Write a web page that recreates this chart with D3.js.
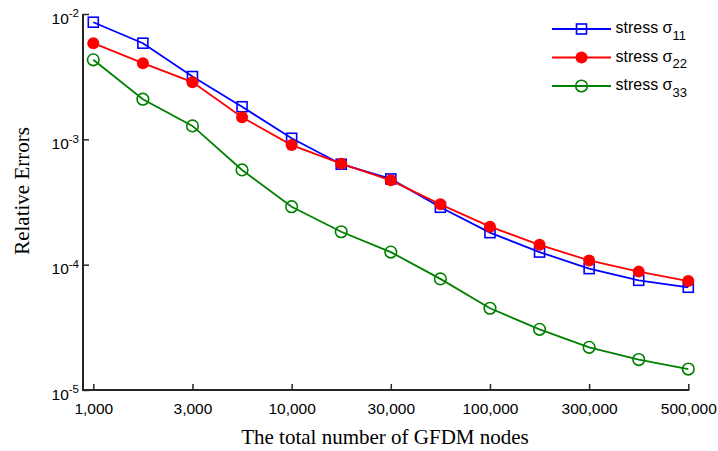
<!DOCTYPE html>
<html lang="en">
<head>
    <meta charset="UTF-8">
    <title>Relative errors vs GFDM nodes</title>
    <script src="https://d3js.org/d3.v7.min.js"></script>
    <style>
        body{ margin:0; background:#fff; }
        .tick text{ font-family: Arial, "Liberation Sans", sans-serif; font-size: 15.5px; fill:#000; }
        .tick line{ stroke:#262626; stroke-width:1.5px; }
        .title{ font-family: "Times New Roman", "Liberation Serif", serif; font-size: 21px; fill:#000; }
        .legend text{ font-family: Arial, "Liberation Sans", sans-serif; font-size: 16px; }
    </style>
</head>
<body>
<svg width="718" height="451"></svg>
<script>
    // number of nodes (evenly spaced categories)
    const nodes = [1000, 2000, 3000, 5000, 10000, 20000, 30000, 50000, 100000, 200000, 300000, 400000, 500000]
    const shownTicks = [1000, 3000, 10000, 30000, 100000, 300000, 500000]

    const sigma11 = [8.6e-3, 5.85e-3, 3.17e-3, 1.82e-3, 1.02e-3, 6.33e-4, 4.83e-4, 2.87e-4, 1.80e-4, 1.26e-4, 9.3e-5, 7.5e-5, 6.6e-5]
    const sigma22 = [5.85e-3, 4.05e-3, 2.86e-3, 1.50e-3, 9.0e-4, 6.4e-4, 4.71e-4, 3.03e-4, 2.01e-4, 1.44e-4, 1.08e-4, 8.8e-5, 7.4e-5]
    const sigma33 = [4.31e-3, 2.09e-3, 1.28e-3, 5.7e-4, 2.90e-4, 1.83e-4, 1.26e-4, 7.7e-5, 4.49e-5, 3.05e-5, 2.19e-5, 1.75e-5, 1.47e-5]

    const yTicks = [1e-5, 1e-4, 1e-3, 1e-2]

    const series = [
        {sub: "11", values: sigma11, color: "#0000ff", marker: "square"},
        {sub: "22", values: sigma22, color: "#ff0000", marker: "dot"},
        {sub: "33", values: sigma33, color: "#008000", marker: "circle"}
    ]

    let svg = d3.select("svg")
    const axisLeftX = 83, axisBottomY = 390

    let x = d3.scalePoint()
        .domain(nodes)
        .range([93.3, 688.3])

    let y = d3.scaleLog()
        .domain([1e-5, 1e-2])
        .range([390, 14])

    // x axis
    let xAxis = svg.append("g")
        .attr("transform", `translate(0,${axisBottomY})`)
        .call(d3.axisBottom(x).tickValues(shownTicks).tickSize(-6).tickPadding(13)
            .tickFormat(d3.format(",")))
    xAxis.select(".domain").remove()

    // y axis
    let yAxis = svg.append("g")
        .attr("transform", `translate(${axisLeftX},0)`)
        .call(d3.axisLeft(y).tickValues(yTicks).tickSize(-6).tickFormat(""))
    yAxis.select(".domain").remove()
    yAxis.selectAll(".tick text").each(function(d){
        let t = d3.select(this).attr("x", -4).attr("dy", "0.6em")
        t.append("tspan").text("10")
        t.append("tspan").attr("dy", "-0.55em").style("font-size", "11.5px").text(Math.round(Math.log10(d)))
    })

    // axis lines
    svg.append("path")
        .attr("d", `M${axisLeftX},${y(1e-2)}V${axisBottomY}H${x(500000) + 1}`)
        .attr("fill", "none")
        .attr("stroke", "#262626")
        .attr("stroke-width", 2)

    // series
    let line = d3.line()
        .x((d, i) => x(nodes[i]))
        .y(d => y(d))

    function drawMarker(g, s, cx, cy) {
        if (s.marker === "square") {
            g.append("rect").attr("x", cx - 5).attr("y", cy - 5).attr("width", 10).attr("height", 10)
                .attr("fill", "none").attr("stroke", s.color).attr("stroke-width", 1.6)
        } else if (s.marker === "dot") {
            g.append("circle").attr("cx", cx).attr("cy", cy).attr("r", 6).attr("fill", s.color)
        } else {
            g.append("circle").attr("cx", cx).attr("cy", cy).attr("r", 5.8)
                .attr("fill", "none").attr("stroke", s.color).attr("stroke-width", 1.6)
        }
    }

    series.forEach(s => {
        let g = svg.append("g")
        g.append("path")
            .attr("d", line(s.values))
            .attr("fill", "none")
            .attr("stroke", s.color)
            .attr("stroke-width", 1.8)
        s.values.forEach((v, i) => drawMarker(g, s, x(nodes[i]), y(v)))
    })

    // legend
    let legend = svg.append("g").attr("class", "legend")
    series.forEach((s, i) => {
        let ly = 29 + i * 28.5
        let g = legend.append("g")
        g.append("line").attr("x1", 552).attr("x2", 611).attr("y1", ly).attr("y2", ly)
            .attr("stroke", s.color).attr("stroke-width", 1.8)
        drawMarker(g, s, 581.5, ly)
        let t = g.append("text").attr("x", 615.5).attr("y", ly + 4)
        t.append("tspan").text("stress \u03c3")
        t.append("tspan").attr("dy", "0.5em").style("font-size", "13px").text(s.sub)
    })

    // titles
    svg.append("text").attr("class", "title")
        .attr("x", 385).attr("y", 444)
        .attr("text-anchor", "middle")
        .text("The total number of GFDM nodes")

    svg.append("text").attr("class", "title")
        .attr("transform", "translate(29,191) rotate(-90)")
        .attr("text-anchor", "middle")
        .text("Relative Errors")
</script>
</body>
</html>
